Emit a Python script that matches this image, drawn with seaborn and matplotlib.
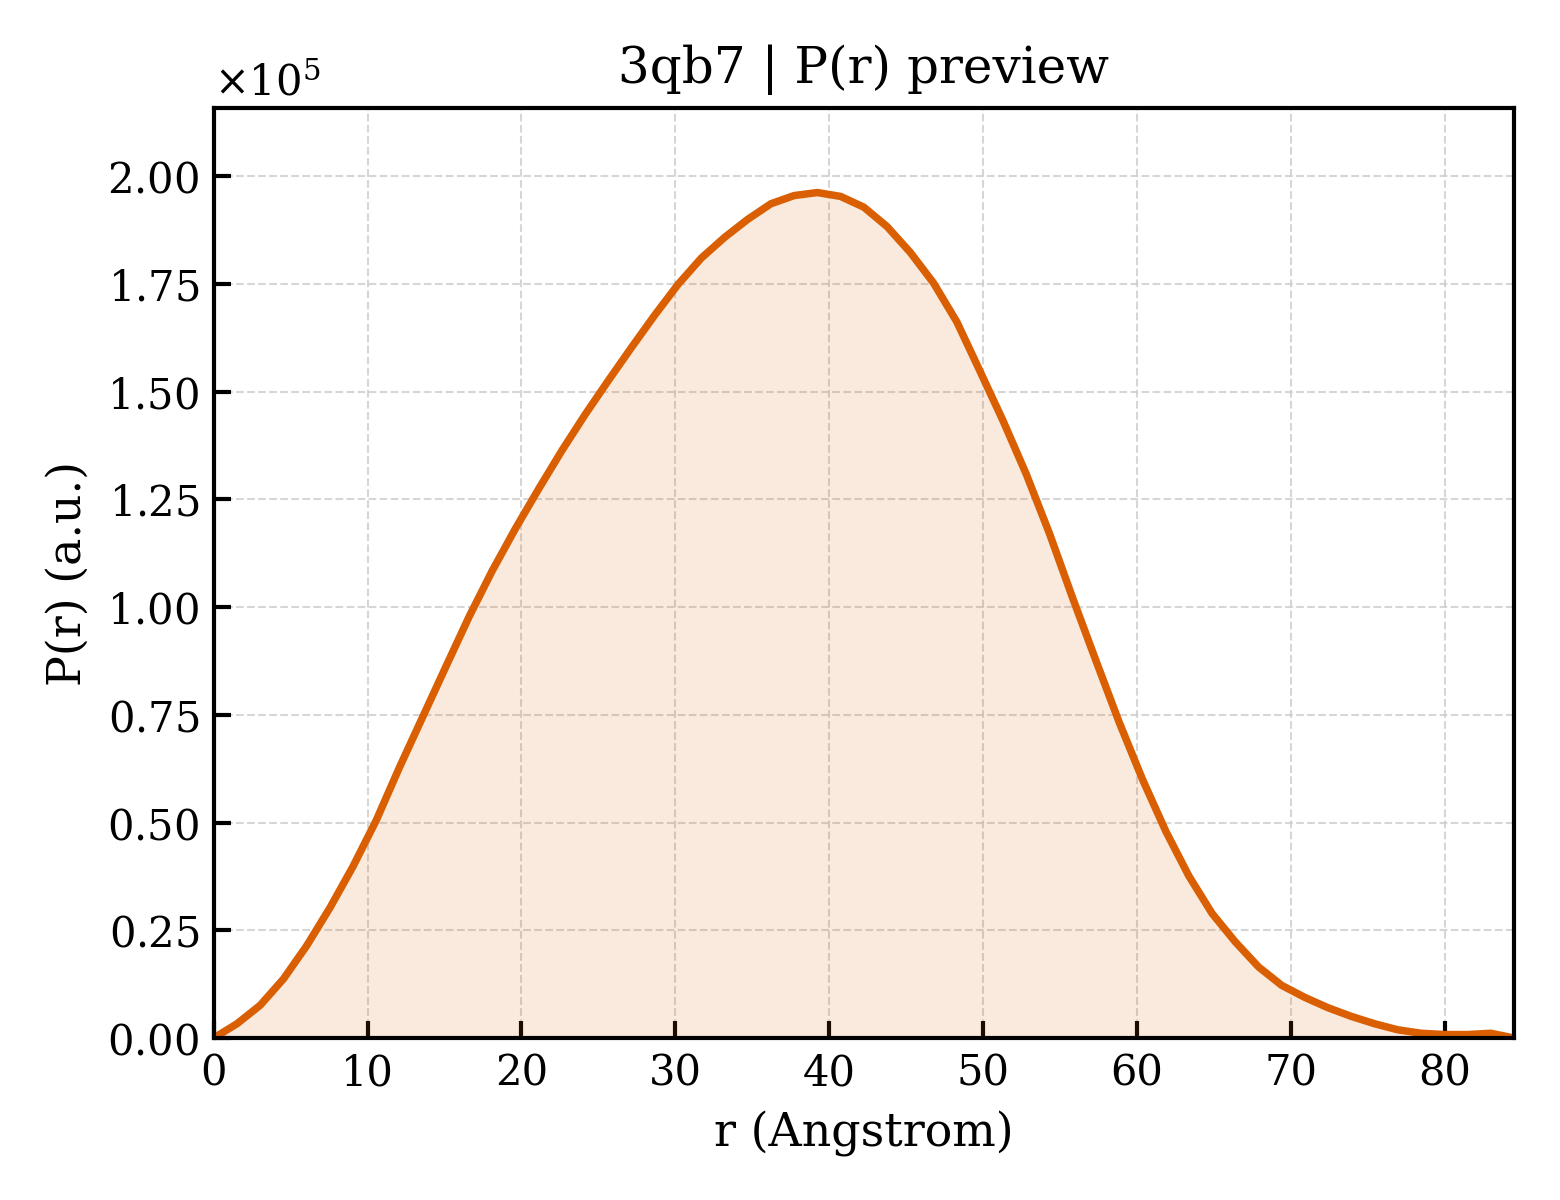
import numpy as np
import pandas as pd
import matplotlib
matplotlib.use("Agg")
import matplotlib.pyplot as plt
import seaborn as sns

# r grid (Angstrom)
r_values = [0.00, 1.51, 3.02, 4.53, 6.04, 7.55, 9.05, 10.56, 12.07, 13.58,
            15.09, 16.60, 18.11, 19.62, 21.13, 22.64, 24.14, 25.65, 27.16, 28.67,
            30.18, 31.69, 33.20, 34.71, 36.21, 37.72, 39.23, 40.74, 42.25, 43.76,
            45.27, 46.78, 48.29, 49.79, 51.30, 52.81, 54.32, 55.83, 57.34, 58.85,
            60.36, 61.87, 63.37, 64.88, 66.39, 67.90, 69.41, 70.92, 72.43, 73.94,
            75.45, 76.95, 78.46, 79.97, 81.48, 82.99, 84.50]
# P(r) values (units of 1e5)
pr_values = [0.000, 0.033, 0.076, 0.137, 0.214, 0.302, 0.398, 0.505, 0.628, 0.745,
             0.862, 0.978, 1.085, 1.183, 1.275, 1.364, 1.447, 1.526, 1.603, 1.678,
             1.749, 1.810, 1.858, 1.900, 1.936, 1.955, 1.962, 1.953, 1.928, 1.883,
             1.823, 1.752, 1.662, 1.548, 1.432, 1.308, 1.170, 1.020, 0.875, 0.732,
             0.600, 0.480, 0.376, 0.289, 0.223, 0.165, 0.122, 0.094, 0.070, 0.050,
             0.033, 0.019, 0.011, 0.008, 0.008, 0.011, 0.000]
scale = 1e5

title = "3qb7 | P(r) preview"
xlabel = "r (Angstrom)"
ylabel = "P(r) (a.u.)"
color = "#d95f02"

df = pd.DataFrame({"r": r_values, "P": np.array(pr_values) * scale})

sns.set_style("white")
plt.rcParams["font.family"] = ["DejaVu Serif"]
plt.rcParams["mathtext.fontset"] = "dejavuserif"
plt.rcParams["text.color"] = "black"
plt.rcParams["axes.labelcolor"] = "black"
plt.rcParams["xtick.color"] = "black"
plt.rcParams["ytick.color"] = "black"

fig = plt.figure(figsize=(5.2, 4.0), dpi=300)
ax = fig.add_axes([0.137, 0.135, 0.8335, 0.775])

ax.fill_between(df["r"], df["P"], 0, color=color, alpha=0.13, linewidth=0)
sns.lineplot(data=df, x="r", y="P", ax=ax, color=color, linewidth=1.8)

ax.set_xlim(0, df["r"].max())
ax.set_ylim(0, df["P"].max() * 1.1)
ax.set_xticks(np.arange(0, 81, 10))
ax.set_yticks(np.arange(0, 2.01e5, 0.25e5))
ax.ticklabel_format(axis="y", style="sci", scilimits=(0, 0), useMathText=True)
ax.yaxis.get_offset_text().set_fontsize(10)
ax.yaxis.get_offset_text().set_color("black")

ax.grid(True, linestyle="--", linewidth=0.5, color="#cccccc", alpha=0.8)
ax.tick_params(direction="in", length=4, width=1, labelsize=10,
               colors="black", top=False, right=False, left=True, bottom=True)
for s in ax.spines.values():
    s.set_visible(True)
    s.set_linewidth(1.0)
    s.set_color("black")

ax.set_title(title, fontsize=12, color="black")
ax.set_xlabel(xlabel, fontsize=11, color="black")
ax.set_ylabel(ylabel, fontsize=11, color="black")

fig.savefig("out.png", dpi=300)
